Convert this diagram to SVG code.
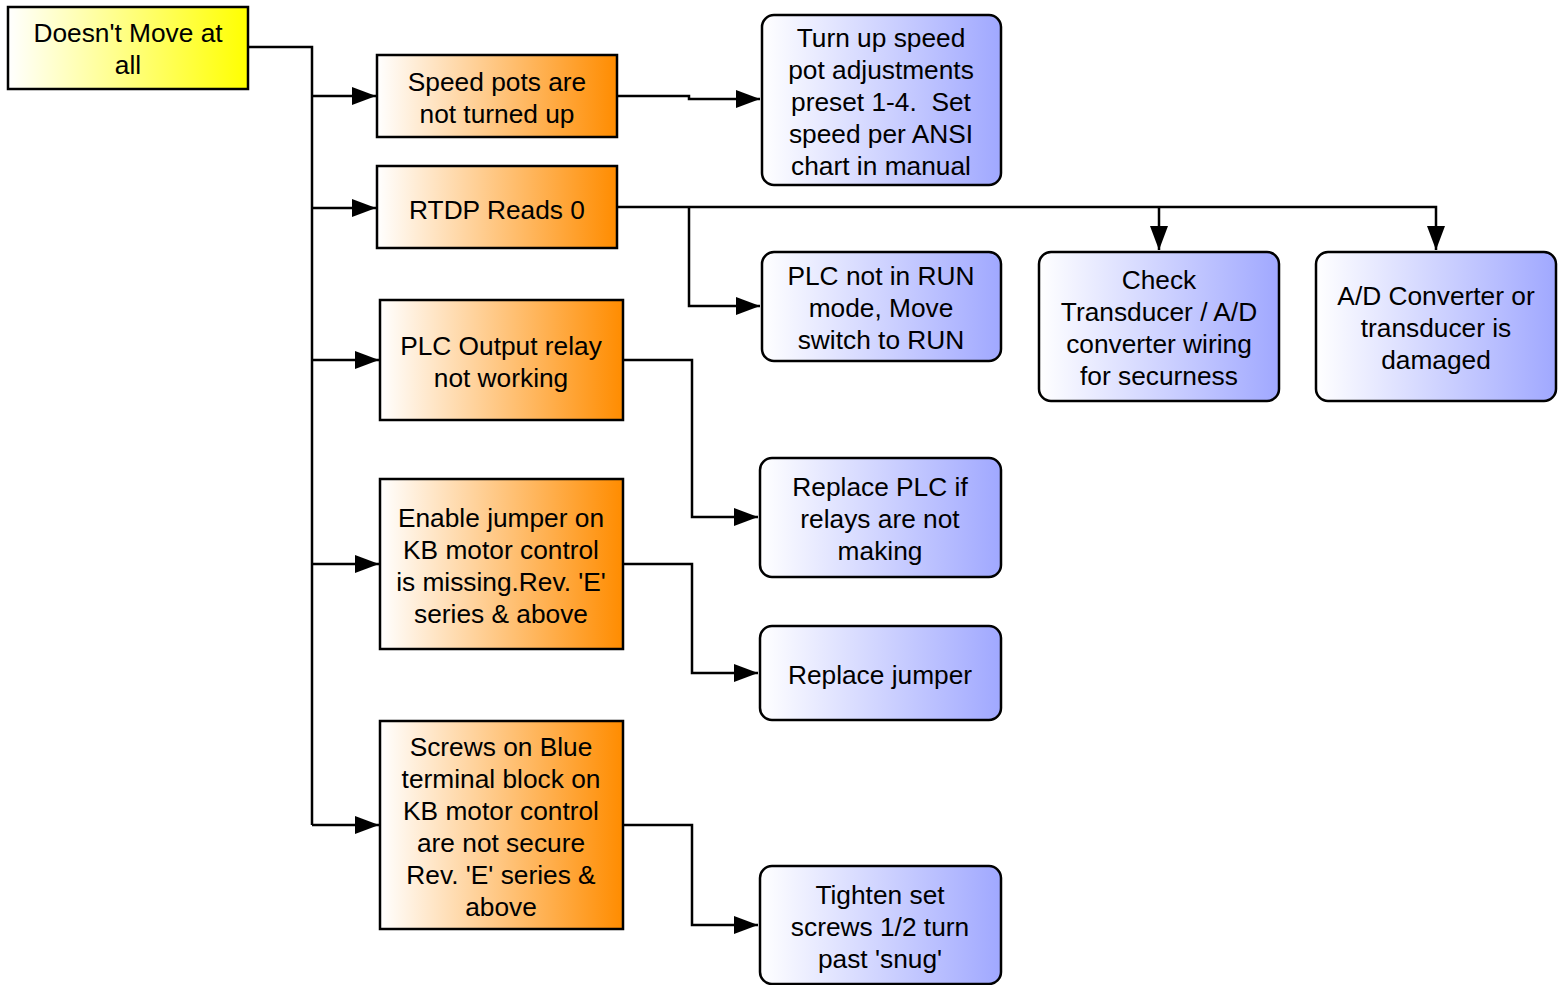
<svg xmlns="http://www.w3.org/2000/svg" width="1562" height="985" viewBox="0 0 1562 985">
<defs>
<linearGradient id="gy" x1="0" y1="0" x2="1" y2="0"><stop offset="0" stop-color="#ffffff"/><stop offset="1" stop-color="#ffff00"/></linearGradient>
<linearGradient id="go" x1="0" y1="0" x2="1" y2="0"><stop offset="0" stop-color="#ffffff"/><stop offset="1" stop-color="#ff8c00"/></linearGradient>
<linearGradient id="gb" x1="0" y1="0" x2="1" y2="0"><stop offset="0" stop-color="#ffffff"/><stop offset="1" stop-color="#a0a8ff"/></linearGradient>
<marker id="ar" markerUnits="userSpaceOnUse" markerWidth="26" markerHeight="20" refX="24" refY="9" orient="auto"><path d="M0,0 L24,9 L0,18 Z" fill="#000"/></marker>
</defs>
<style>
.box{stroke:#000;stroke-width:2.5}
.y{fill:url(#gy)}
.o{fill:url(#go)}
.b{fill:url(#gb)}
text{font-family:"Liberation Sans",Arial,sans-serif;font-size:26.3px;fill:#000;text-anchor:middle;white-space:pre}
.c{fill:none;stroke:#000;stroke-width:2.5}
</style>
<rect width="1562" height="985" fill="#fff"/>
<g id="connectors">
<path class="c" d="M248,47 H312 V825"/>
<path class="c" d="M312,96 H376" marker-end="url(#ar)"/>
<path class="c" d="M312,208 H376" marker-end="url(#ar)"/>
<path class="c" d="M312,360 H379" marker-end="url(#ar)"/>
<path class="c" d="M312,564 H379" marker-end="url(#ar)"/>
<path class="c" d="M312,825 H379" marker-end="url(#ar)"/>
<path class="c" d="M617,96 H689 V99 H760" marker-end="url(#ar)"/>
<path class="c" d="M617,207 H1436 V250" marker-end="url(#ar)"/>
<path class="c" d="M1159,207 V250" marker-end="url(#ar)"/>
<path class="c" d="M689,207 V306 H760" marker-end="url(#ar)"/>
<path class="c" d="M623,360 H692 V517 H758" marker-end="url(#ar)"/>
<path class="c" d="M623,564 H692 V673 H758" marker-end="url(#ar)"/>
<path class="c" d="M623,825 H692 V925 H758" marker-end="url(#ar)"/>
</g>
<g id="root"><rect class="box y" x="8" y="7" width="240" height="82"/>
<text x="128" y="42">Doesn't Move at</text><text x="128" y="74">all</text></g>
<g id="speedpots"><rect class="box o" x="377" y="55" width="240" height="82"/>
<text x="497" y="91">Speed pots are</text><text x="497" y="123">not turned up</text></g>
<g id="rtdp"><rect class="box o" x="377" y="166" width="240" height="82"/>
<text x="497" y="219">RTDP Reads 0</text></g>
<g id="plcrelay"><rect class="box o" x="380" y="300" width="243" height="120"/>
<text x="501" y="355">PLC Output relay</text><text x="501" y="387">not working</text></g>
<g id="jumper"><rect class="box o" x="380" y="479" width="243" height="170"/>
<text x="501" y="527">Enable jumper on</text><text x="501" y="559">KB motor control</text><text x="501" y="591">is missing.Rev. 'E'</text><text x="501" y="623">series &amp; above</text></g>
<g id="screws"><rect class="box o" x="380" y="721" width="243" height="208"/>
<text x="501" y="756">Screws on Blue</text><text x="501" y="788">terminal block on</text><text x="501" y="820">KB motor control</text><text x="501" y="852">are not secure</text><text x="501" y="884">Rev. 'E' series &amp;</text><text x="501" y="916">above</text></g>
<g id="turnup"><rect class="box b" x="762" y="15" width="239" height="170" rx="12"/>
<text x="881" y="47">Turn up speed</text><text x="881" y="79">pot adjustments</text><text x="881" y="111" xml:space="preserve">preset 1-4.  Set</text><text x="881" y="143">speed per ANSI</text><text x="881" y="175">chart in manual</text></g>
<g id="plcrun"><rect class="box b" x="762" y="252" width="239" height="109" rx="12"/>
<text x="881" y="285">PLC not in RUN</text><text x="881" y="317">mode, Move</text><text x="881" y="349">switch to RUN</text></g>
<g id="check"><rect class="box b" x="1039" y="252" width="240" height="149" rx="12"/>
<text x="1159" y="289">Check</text><text x="1159" y="321">Transducer / A/D</text><text x="1159" y="353">converter wiring</text><text x="1159" y="385">for securness</text></g>
<g id="adconv"><rect class="box b" x="1316" y="252" width="240" height="149" rx="12"/>
<text x="1436" y="305">A/D Converter or</text><text x="1436" y="337">transducer is</text><text x="1436" y="369">damaged</text></g>
<g id="replaceplc"><rect class="box b" x="760" y="458" width="241" height="119" rx="12"/>
<text x="880" y="496">Replace PLC if</text><text x="880" y="528">relays are not</text><text x="880" y="560">making</text></g>
<g id="replacejumper"><rect class="box b" x="760" y="626" width="241" height="94" rx="12"/>
<text x="880" y="684">Replace jumper</text></g>
<g id="tighten"><rect class="box b" x="760" y="866" width="241" height="118" rx="12"/>
<text x="880" y="904">Tighten set</text><text x="880" y="936">screws 1/2 turn</text><text x="880" y="968">past 'snug'</text></g>
</svg>
